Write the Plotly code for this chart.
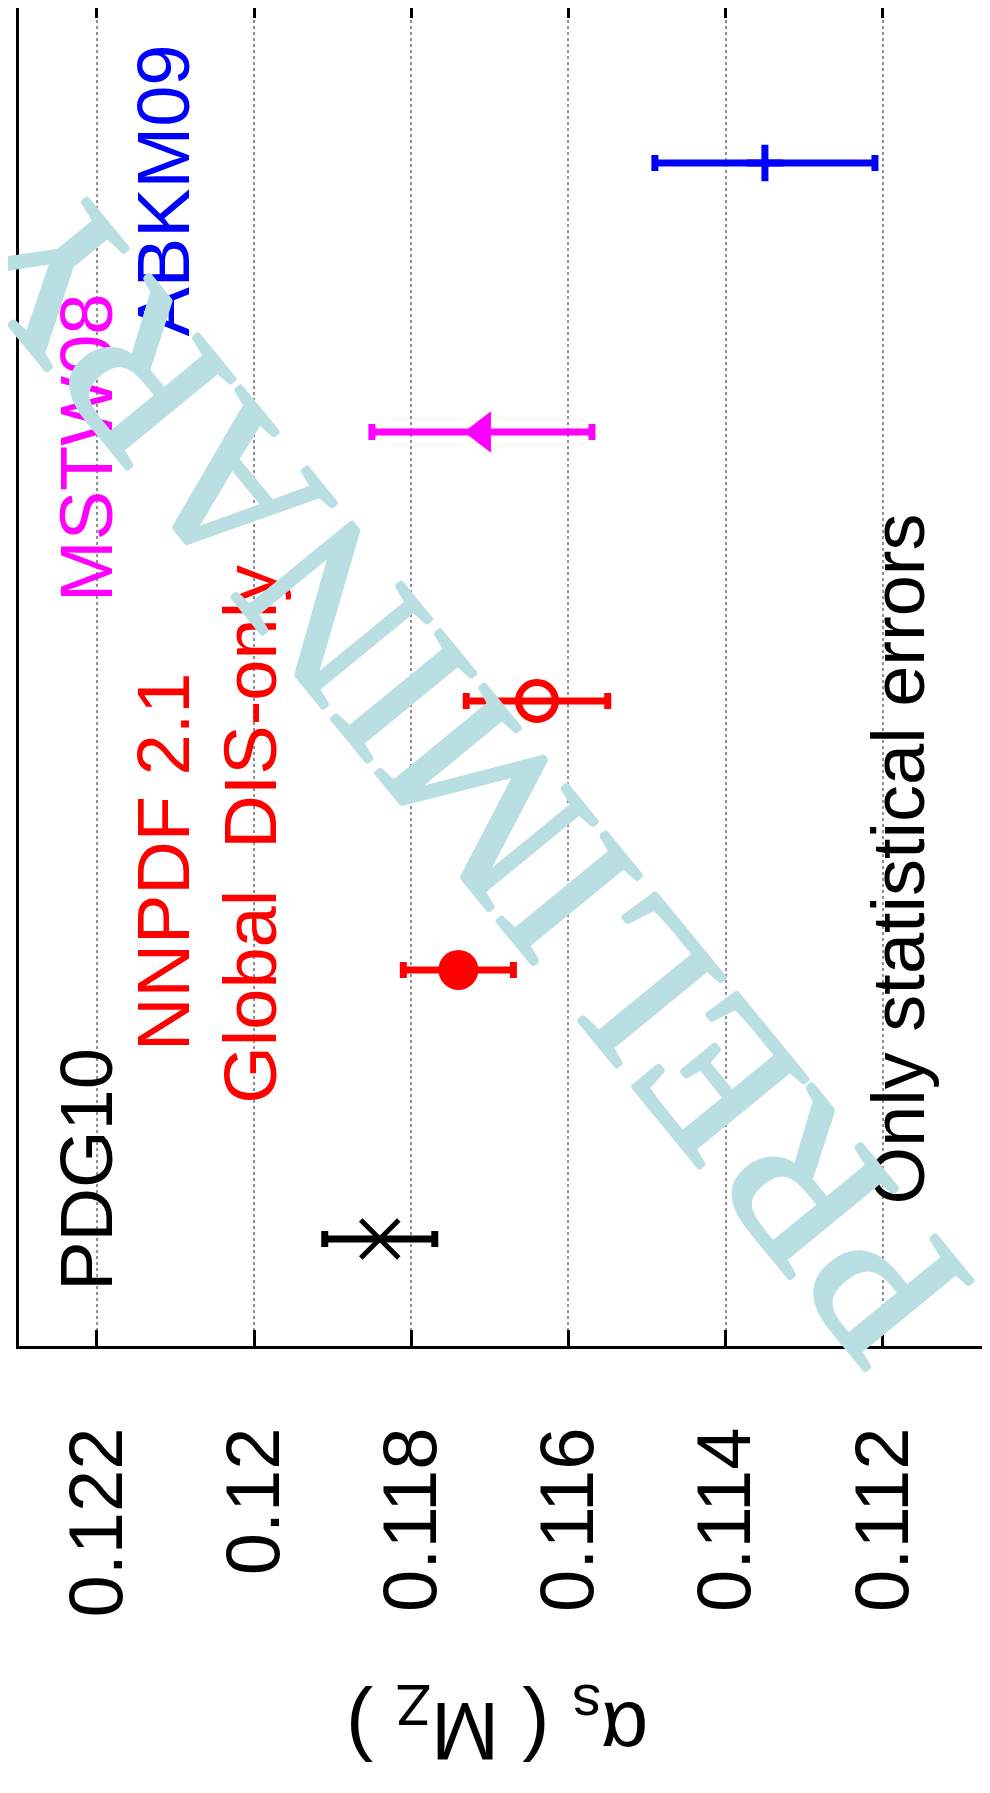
import plotly.graph_objects as go

# ---- data ----
categories = ["PDG10", "NNPDF 2.1 Global", "NNPDF 2.1 DIS-only", "MSTW08", "ABKM09"]
alphas = [0.1184, 0.1174, 0.1164, 0.1171, 0.1135]
errors = [0.0007, 0.0007, 0.0009, 0.0014, 0.0014]
colors = ["black", "red", "red", "magenta", "blue"]
symbols = ["x-thin-open", "circle", "circle-open", "triangle-left", "cross-thin-open"]
sizes = [38, 40, 37, 36, 26]
mlines = [5, 0, 7, 0, 7]

tick_vals = [0.112, 0.114, 0.116, 0.118, 0.12, 0.122]
tick_text = ["0.112", "0.114", "0.116", "0.118", "0.12", "0.122"]

# labels: (text, color, x value, y category index)
labels = [
    ("PDG10", "black", 0.12214, 0.26),
    ("NNPDF 2.1", "red", 0.12115, 1.40),
    ("Global\u00a0\u00a0DIS-only", "red", 0.12004, 1.506),
    ("MSTW08", "magenta", 0.12214, 2.94),
    ("ABKM09", "blue", 0.12115, 3.896),
    ("Only statistical errors", "black", 0.11180, 1.413),
]

SANS = "Liberation Sans, Arial, Helvetica, sans-serif"
WM = "rgb(185,223,227)"

fig = go.Figure()
for i, cat in enumerate(categories):
    fig.add_trace(go.Scatter(
        x=[alphas[i]], y=[cat], mode="markers",
        marker=dict(symbol=symbols[i], size=sizes[i], color=colors[i],
                    line=dict(color=colors[i], width=mlines[i])),
        error_x=dict(type="data", array=[errors[i]], color=colors[i],
                     thickness=7, width=8),
        showlegend=False, hoverinfo="skip",
    ))

# invisible trace to carry the top (mirrored) tick axis
fig.add_trace(go.Scatter(x=[alphas[0]], y=[categories[0]], xaxis="x2",
                         mode="markers", marker=dict(opacity=0),
                         showlegend=False, hoverinfo="skip"))

annotations = []
for text, col, xv, yv in labels:
    annotations.append(dict(text=text, x=xv, y=yv, xref="x", yref="y",
                            showarrow=False, textangle=-90,
                            xanchor="center", yanchor="middle",
                            font=dict(family=SANS, size=74, color=col)))

# axis title, upside down as in the reference
annotations.append(dict(text="\u03b1<sub>s</sub> ( M<sub>Z</sub> )",
                        x=0.11690, y=-0.2835, xref="x", yref="paper",
                        showarrow=False, textangle=180,
                        xanchor="center", yanchor="middle",
                        font=dict(family=SANS, size=82, color="black")))

# watermark
shadow = ", ".join(f"{dx}px {dy}px 0 {WM}" for dx, dy in
                   [(2, 0), (-2, 0), (0, 2), (0, -2), (1.5, 1.5), (-1.5, -1.5),
                    (1.5, -1.5), (-1.5, 1.5)])
annotations.append(dict(text="PRELIMINARY", x=0.11735, y=1.74,
                        xref="x", yref="y", showarrow=False,
                        textangle=-129.3, xanchor="center", yanchor="middle",
                        font=dict(family="Liberation Serif, Times New Roman, serif",
                                  size=214, color=WM, shadow=shadow)))

fig.update_layout(
    width=990, height=1793,
    margin=dict(l=11, r=2, t=0, b=455),
    paper_bgcolor="white", plot_bgcolor="white",
    font=dict(family=SANS, color="black"),
    annotations=annotations,
    xaxis=dict(
        range=[0.12299, 0.11056], tickvals=tick_vals, ticktext=tick_text,
        tickangle=-90, tickfont=dict(family=SANS, size=76, color="black"),
        ticks="inside", ticklen=16, tickwidth=3, tickcolor="black",
        ticklabelstandoff=48,
        showline=True, linewidth=3, linecolor="black", mirror=False,
        showgrid=True, gridcolor="#909090", gridwidth=1.5, griddash="dot",
        zeroline=False,
    ),
    xaxis2=dict(
        overlaying="x", side="top", matches="x", anchor="y",
        tickvals=tick_vals, ticks="inside", ticklen=10, tickwidth=3,
        tickcolor="black", showticklabels=False, showgrid=False,
        showline=False, zeroline=False,
    ),
    yaxis=dict(
        type="category", categoryorder="array", categoryarray=categories,
        range=[-0.398, 4.576], showticklabels=False, ticks="",
        showgrid=False, zeroline=False,
        showline=True, linewidth=3, linecolor="black", mirror=True,
    ),
)

fig.write_html("out.html")
